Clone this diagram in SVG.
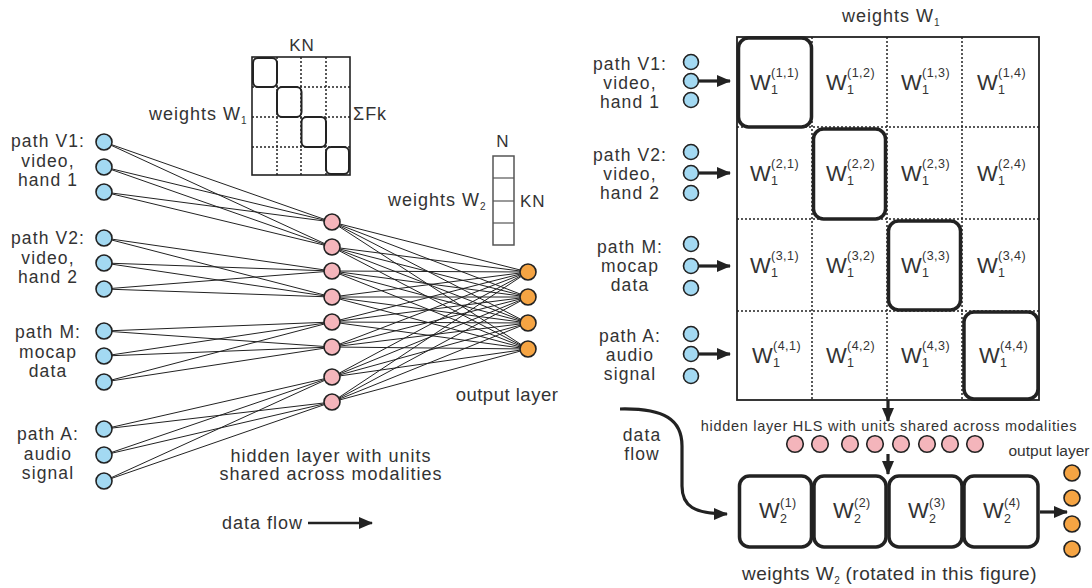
<svg xmlns="http://www.w3.org/2000/svg" width="1092" height="588" viewBox="0 0 1092 588">
<style>
text{font-family:"Liberation Sans",Arial,sans-serif;fill:#333}
.lb{font-size:17.5px;letter-spacing:1.1px;text-anchor:middle}
.md{font-size:18px;letter-spacing:1px}
.sb{font-size:10px;letter-spacing:0}
.cw{font-size:22px}
.cs{font-size:12.5px;letter-spacing:0.5px}
.in{fill:#a3d9f2;stroke:#222;stroke-width:1.6}
.hd{fill:#f4b5bb;stroke:#222;stroke-width:1.6}
.ou{fill:#f5a443;stroke:#222;stroke-width:1.6}
.cn line{stroke:#222;stroke-width:1}
.cn .ar{stroke:#222;stroke-width:3.2;fill:none}
.dot{stroke:#222;stroke-width:1.5;stroke-dasharray:2 2;fill:none}
.thin{fill:none;stroke:#222;stroke-width:1.6}
.rb{fill:none;stroke:#222;stroke-width:2}
.tb{fill:none;stroke:#222;stroke-width:3.5}
</style>
<defs>
<marker id="ah" markerUnits="userSpaceOnUse" markerWidth="14" markerHeight="12" refX="13" refY="6" orient="auto">
<path d="M0,0 L14,6 L0,12 z" fill="#222"/>
</marker>
</defs>
<rect width="1092" height="588" fill="#fff"/>

<g id="connectors" class="cn">
<line x1="104" y1="142" x2="332" y2="222"/><line x1="104" y1="142" x2="332" y2="247"/>
<line x1="104" y1="167" x2="332" y2="222"/><line x1="104" y1="167" x2="332" y2="247"/>
<line x1="104" y1="192" x2="332" y2="222"/><line x1="104" y1="192" x2="332" y2="247"/>
<line x1="104" y1="238" x2="332" y2="271"/><line x1="104" y1="238" x2="332" y2="297"/>
<line x1="104" y1="263" x2="332" y2="271"/><line x1="104" y1="263" x2="332" y2="297"/>
<line x1="104" y1="289" x2="332" y2="271"/><line x1="104" y1="289" x2="332" y2="297"/>
<line x1="104" y1="331" x2="332" y2="322"/><line x1="104" y1="331" x2="332" y2="347"/>
<line x1="104" y1="356" x2="332" y2="322"/><line x1="104" y1="356" x2="332" y2="347"/>
<line x1="104" y1="382" x2="332" y2="322"/><line x1="104" y1="382" x2="332" y2="347"/>
<line x1="104" y1="429" x2="332" y2="377"/><line x1="104" y1="429" x2="332" y2="402"/>
<line x1="104" y1="455" x2="332" y2="377"/><line x1="104" y1="455" x2="332" y2="402"/>
<line x1="104" y1="481" x2="332" y2="377"/><line x1="104" y1="481" x2="332" y2="402"/>

<line x1="332" y1="222" x2="528" y2="272"/><line x1="332" y1="222" x2="528" y2="297"/><line x1="332" y1="222" x2="528" y2="323"/><line x1="332" y1="222" x2="528" y2="349"/>
<line x1="332" y1="247" x2="528" y2="272"/><line x1="332" y1="247" x2="528" y2="297"/><line x1="332" y1="247" x2="528" y2="323"/><line x1="332" y1="247" x2="528" y2="349"/>
<line x1="332" y1="271" x2="528" y2="272"/><line x1="332" y1="271" x2="528" y2="297"/><line x1="332" y1="271" x2="528" y2="323"/><line x1="332" y1="271" x2="528" y2="349"/>
<line x1="332" y1="297" x2="528" y2="272"/><line x1="332" y1="297" x2="528" y2="297"/><line x1="332" y1="297" x2="528" y2="323"/><line x1="332" y1="297" x2="528" y2="349"/>
<line x1="332" y1="322" x2="528" y2="272"/><line x1="332" y1="322" x2="528" y2="297"/><line x1="332" y1="322" x2="528" y2="323"/><line x1="332" y1="322" x2="528" y2="349"/>
<line x1="332" y1="347" x2="528" y2="272"/><line x1="332" y1="347" x2="528" y2="297"/><line x1="332" y1="347" x2="528" y2="323"/><line x1="332" y1="347" x2="528" y2="349"/>
<line x1="332" y1="377" x2="528" y2="272"/><line x1="332" y1="377" x2="528" y2="297"/><line x1="332" y1="377" x2="528" y2="323"/><line x1="332" y1="377" x2="528" y2="349"/>
<line x1="332" y1="402" x2="528" y2="272"/><line x1="332" y1="402" x2="528" y2="297"/><line x1="332" y1="402" x2="528" y2="323"/><line x1="332" y1="402" x2="528" y2="349"/>

<line class="ar" x1="698" y1="81" x2="730" y2="81" marker-end="url(#ah)"/>
<line class="ar" x1="698" y1="173" x2="730" y2="173" marker-end="url(#ah)"/>
<line class="ar" x1="698" y1="266" x2="730" y2="266" marker-end="url(#ah)"/>
<line class="ar" x1="698" y1="354" x2="730" y2="354" marker-end="url(#ah)"/>
<line class="ar" x1="888" y1="400" x2="888" y2="421" marker-end="url(#ah)"/>
<line class="ar" x1="888" y1="454" x2="888" y2="474" marker-end="url(#ah)"/>
<line class="ar" x1="1040" y1="512" x2="1067" y2="512" marker-end="url(#ah)"/>
<path class="ar" d="M620,409 C665,408 682,420 682,446 L682,486 C682,506 694,514 727,514" marker-end="url(#ah)"/>
<line class="ar" x1="308" y1="523" x2="372" y2="523" marker-end="url(#ah)" style="stroke-width:2.5"/>
</g>

<g id="label-v1"><text class="lb" x="48" y="147">path V1:</text><text class="lb" x="48" y="166.5">video,</text><text class="lb" x="48" y="186">hand 1</text></g>
<g id="label-v2"><text class="lb" x="48" y="244">path V2:</text><text class="lb" x="48" y="263.5">video,</text><text class="lb" x="48" y="283">hand 2</text></g>
<g id="label-m"><text class="lb" x="48" y="338">path M:</text><text class="lb" x="48" y="357.5">mocap</text><text class="lb" x="48" y="377">data</text></g>
<g id="label-a"><text class="lb" x="48" y="440">path A:</text><text class="lb" x="48" y="459.5">audio</text><text class="lb" x="48" y="479">signal</text></g>

<g id="input-v1"><circle class="in" cx="104" cy="142" r="8"/><circle class="in" cx="104" cy="167" r="8"/><circle class="in" cx="104" cy="192" r="8"/></g>
<g id="input-v2"><circle class="in" cx="104" cy="238" r="8"/><circle class="in" cx="104" cy="263" r="8"/><circle class="in" cx="104" cy="289" r="8"/></g>
<g id="input-m"><circle class="in" cx="104" cy="331" r="8"/><circle class="in" cx="104" cy="356" r="8"/><circle class="in" cx="104" cy="382" r="8"/></g>
<g id="input-a"><circle class="in" cx="104" cy="429" r="8"/><circle class="in" cx="104" cy="455" r="8"/><circle class="in" cx="104" cy="481" r="8"/></g>

<g id="hidden-layer">
<circle class="hd" cx="332" cy="222" r="8"/><circle class="hd" cx="332" cy="247" r="8"/>
<circle class="hd" cx="332" cy="271" r="8"/><circle class="hd" cx="332" cy="297" r="8"/>
<circle class="hd" cx="332" cy="322" r="8"/><circle class="hd" cx="332" cy="347" r="8"/>
<circle class="hd" cx="332" cy="377" r="8"/><circle class="hd" cx="332" cy="402" r="8"/>
</g>
<g id="hidden-label"><text class="md" x="331" y="462" text-anchor="middle">hidden layer with units</text><text class="md" x="331" y="480" text-anchor="middle">shared across modalities</text></g>

<g id="output-layer">
<circle class="ou" cx="528" cy="272" r="8"/><circle class="ou" cx="528" cy="297" r="8"/>
<circle class="ou" cx="528" cy="323" r="8"/><circle class="ou" cx="528" cy="349" r="8"/>
</g>
<g id="output-label"><text class="md" x="507" y="401" text-anchor="middle" style="font-size:18.5px;letter-spacing:0.5px">output layer</text></g>

<g id="dataflow-left"><text class="md" x="222" y="529">data flow</text></g>

<g id="w1-small">
<rect class="thin" x="252" y="57" width="98" height="118"/>
<line class="dot" x1="277" y1="57" x2="277" y2="175"/>
<line class="dot" x1="301" y1="57" x2="301" y2="175"/>
<line class="dot" x1="326" y1="57" x2="326" y2="175"/>
<line class="dot" x1="252" y1="87" x2="350" y2="87"/>
<line class="dot" x1="252" y1="117" x2="350" y2="117"/>
<line class="dot" x1="252" y1="147" x2="350" y2="147"/>
<rect class="rb" x="253" y="58" width="24" height="29" rx="5"/>
<rect class="rb" x="277" y="87" width="24.5" height="30" rx="5"/>
<rect class="rb" x="301.5" y="117" width="24.5" height="30" rx="5"/>
<rect class="rb" x="326" y="147" width="23" height="27" rx="5"/>
<text class="md" x="302" y="51" text-anchor="middle" style="font-size:17px">KN</text>
<text class="md" x="149" y="120">weights W<tspan class="sb" dy="4">1</tspan></text>
<text class="md" x="353" y="120">ΣFk</text>
</g>

<g id="w2-small">
<rect x="493" y="156" width="21" height="89" fill="none" stroke="#555" stroke-width="1.5"/>
<line x1="493" y1="178" x2="514" y2="178" stroke="#555" stroke-width="1.2"/>
<line x1="493" y1="201" x2="514" y2="201" stroke="#555" stroke-width="1.2"/>
<line x1="493" y1="223" x2="514" y2="223" stroke="#555" stroke-width="1.2"/>
<text class="md" x="503" y="147" text-anchor="middle" style="font-size:17px">N</text>
<text class="md" x="520" y="207" style="font-size:17px">KN</text>
<text class="md" x="388" y="206">weights W<tspan class="sb" dy="4">2</tspan></text>
</g>

<g id="w1-title"><text class="md" x="842" y="22">weights W<tspan class="sb" dy="4">1</tspan></text></g>

<g id="r-label-v1"><text class="lb" x="630" y="70">path V1:</text><text class="lb" x="630" y="89">video,</text><text class="lb" x="630" y="108">hand 1</text></g>
<g id="r-label-v2"><text class="lb" x="630" y="161">path V2:</text><text class="lb" x="630" y="180">video,</text><text class="lb" x="630" y="199">hand 2</text></g>
<g id="r-label-m"><text class="lb" x="630" y="253">path M:</text><text class="lb" x="630" y="272">mocap</text><text class="lb" x="630" y="291">data</text></g>
<g id="r-label-a"><text class="lb" x="630" y="342">path A:</text><text class="lb" x="630" y="361">audio</text><text class="lb" x="630" y="380">signal</text></g>

<g id="r-input-v1"><circle class="in" cx="691" cy="62" r="7.5"/><circle class="in" cx="691" cy="81" r="7.5"/><circle class="in" cx="691" cy="100" r="7.5"/></g>
<g id="r-input-v2"><circle class="in" cx="691" cy="152" r="7.5"/><circle class="in" cx="691" cy="173" r="7.5"/><circle class="in" cx="691" cy="193" r="7.5"/></g>
<g id="r-input-m"><circle class="in" cx="691" cy="244" r="7.5"/><circle class="in" cx="691" cy="266" r="7.5"/><circle class="in" cx="691" cy="288" r="7.5"/></g>
<g id="r-input-a"><circle class="in" cx="691" cy="334" r="7.5"/><circle class="in" cx="691" cy="354" r="7.5"/><circle class="in" cx="691" cy="376" r="7.5"/></g>

<g id="w1-big">
<rect x="737" y="37" width="302" height="363" fill="none" stroke="#222" stroke-width="1.8"/>
<line class="dot" x1="812" y1="37" x2="812" y2="400"/>
<line class="dot" x1="887" y1="37" x2="887" y2="400"/>
<line class="dot" x1="962" y1="37" x2="962" y2="400"/>
<line class="dot" x1="737" y1="127" x2="1039" y2="127"/>
<line class="dot" x1="737" y1="219" x2="1039" y2="219"/>
<line class="dot" x1="737" y1="311" x2="1039" y2="311"/>
<rect class="tb" x="738.5" y="38" width="73" height="89" rx="10"/>
<rect class="tb" x="813.5" y="129" width="72" height="90" rx="10"/>
<rect class="tb" x="888.5" y="221" width="72" height="89" rx="10"/>
<rect class="tb" x="964" y="312" width="74" height="87" rx="10"/>

<text class="cw" x="750" y="90">W</text><text class="cs" x="771" y="77">(1,1)</text><text class="cs" x="771" y="94">1</text>
<text class="cw" x="826" y="90">W</text><text class="cs" x="847" y="77">(1,2)</text><text class="cs" x="847" y="94">1</text>
<text class="cw" x="901" y="90">W</text><text class="cs" x="922" y="77">(1,3)</text><text class="cs" x="922" y="94">1</text>
<text class="cw" x="977" y="90">W</text><text class="cs" x="998" y="77">(1,4)</text><text class="cs" x="998" y="94">1</text>

<text class="cw" x="750" y="181">W</text><text class="cs" x="771" y="168">(2,1)</text><text class="cs" x="771" y="185">1</text>
<text class="cw" x="826" y="181">W</text><text class="cs" x="847" y="168">(2,2)</text><text class="cs" x="847" y="185">1</text>
<text class="cw" x="901" y="181">W</text><text class="cs" x="922" y="168">(2,3)</text><text class="cs" x="922" y="185">1</text>
<text class="cw" x="977" y="181">W</text><text class="cs" x="998" y="168">(2,4)</text><text class="cs" x="998" y="185">1</text>

<text class="cw" x="750" y="273">W</text><text class="cs" x="771" y="260">(3,1)</text><text class="cs" x="771" y="277">1</text>
<text class="cw" x="826" y="273">W</text><text class="cs" x="847" y="260">(3,2)</text><text class="cs" x="847" y="277">1</text>
<text class="cw" x="901" y="273">W</text><text class="cs" x="922" y="260">(3,3)</text><text class="cs" x="922" y="277">1</text>
<text class="cw" x="977" y="273">W</text><text class="cs" x="998" y="260">(3,4)</text><text class="cs" x="998" y="277">1</text>

<text class="cw" x="752" y="363">W</text><text class="cs" x="773" y="350">(4,1)</text><text class="cs" x="773" y="367">1</text>
<text class="cw" x="826" y="363">W</text><text class="cs" x="847" y="350">(4,2)</text><text class="cs" x="847" y="367">1</text>
<text class="cw" x="901" y="363">W</text><text class="cs" x="922" y="350">(4,3)</text><text class="cs" x="922" y="367">1</text>
<text class="cw" x="979" y="363">W</text><text class="cs" x="1000" y="350">(4,4)</text><text class="cs" x="1000" y="367">1</text>
</g>

<g id="hls-label"><text x="889" y="431" text-anchor="middle" style="font-size:14.5px;letter-spacing:0.7px">hidden layer HLS with units shared across modalities</text></g>
<g id="hls-nodes">
<circle class="hd" cx="795" cy="444" r="8.3"/><circle class="hd" cx="820" cy="444" r="8.3"/>
<circle class="hd" cx="850" cy="444" r="8.3"/><circle class="hd" cx="875" cy="444" r="8.3"/>
<circle class="hd" cx="901" cy="444" r="8.3"/><circle class="hd" cx="927" cy="444" r="8.3"/>
<circle class="hd" cx="950" cy="444" r="8.3"/><circle class="hd" cx="975" cy="444" r="8.3"/>
</g>

<g id="dataflow-right"><text class="lb" x="642" y="441">data</text><text class="lb" x="642" y="460">flow</text></g>

<g id="w2-big">
<rect class="tb" x="739.5" y="476" width="72" height="71" rx="10"/>
<rect class="tb" x="814" y="476" width="72" height="71" rx="10"/>
<rect class="tb" x="889" y="476" width="73" height="71" rx="10"/>
<rect class="tb" x="964" y="476" width="74" height="71" rx="10"/>
<text class="cw" x="759" y="518">W</text><text class="cs" x="780" y="507">(1)</text><text class="cs" x="780" y="523">2</text>
<text class="cw" x="833" y="518">W</text><text class="cs" x="854" y="507">(2)</text><text class="cs" x="854" y="523">2</text>
<text class="cw" x="908" y="518">W</text><text class="cs" x="929" y="507">(3)</text><text class="cs" x="929" y="523">2</text>
<text class="cw" x="983" y="518">W</text><text class="cs" x="1004" y="507">(4)</text><text class="cs" x="1004" y="523">2</text>
</g>

<g id="r-output"><circle class="ou" cx="1072" cy="473" r="8"/><circle class="ou" cx="1072" cy="498" r="8"/><circle class="ou" cx="1072" cy="524" r="8"/><circle class="ou" cx="1072" cy="549" r="8"/></g>
<g id="r-output-label"><text x="1049" y="456" text-anchor="middle" style="font-size:15.5px">output layer</text></g>

<g id="w2-caption"><text class="md" x="742" y="580" style="font-size:19px;letter-spacing:0.5px">weights W<tspan class="sb" dy="4">2</tspan><tspan dy="-4"> (rotated in this figure)</tspan></text></g>
</svg>
